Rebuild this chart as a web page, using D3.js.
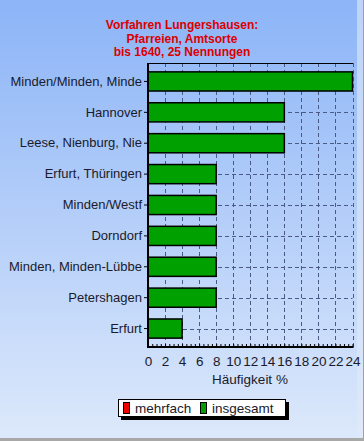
<!DOCTYPE html>
<html><head><meta charset="utf-8">
<script src="https://cdn.jsdelivr.net/npm/d3@7"></script>
<style>body{margin:0;padding:0;overflow:hidden}svg{display:block}</style>
</head><body>
<script>
const categories = ["Minden/Minden, Minde","Hannover","Leese, Nienburg, Nie","Erfurt, Thüringen","Minden/Westf","Dorndorf","Minden, Minden-Lübbe","Petershagen","Erfurt"];
const insgesamt = [24,16,16,8,8,8,8,8,4];
const mehrfach = [0,0,0,0,0,0,0,0,0];
const xTicks = [0,2,4,6,8,10,12,14,16,18,20,22,24];
const titleLines = ["Vorfahren Lungershausen:","Pfarreien, Amtsorte","bis 1640, 25 Nennungen"];
const xLabel = "Häufigkeit %";
const legendItems = [{name:"mehrfach",color:"#ee0000"},{name:"insgesamt",color:"#00a000"}];

const W=364,H=441;
const svg=d3.select("body").append("svg").attr("width",W).attr("height",H);
const defs=svg.append("defs");
const lg=defs.append("linearGradient").attr("id","bg").attr("x1",0).attr("y1",0).attr("x2",0).attr("y2",1);
lg.append("stop").attr("offset","0%").attr("stop-color","#8cb4f7");
lg.append("stop").attr("offset","100%").attr("stop-color","#dde9fb");
svg.append("rect").attr("width",W).attr("height",H).attr("fill","url(#bg)");
// window edges
svg.append("rect").attr("x",W-7).attr("y",0).attr("width",6).attr("height",H).attr("fill","#dfe9f9").attr("opacity",0.6);
svg.append("rect").attr("x",W-1).attr("y",0).attr("width",1).attr("height",H).attr("fill","#a0a0a0");
svg.append("rect").attr("x",0).attr("y",H-3).attr("width",W).attr("height",3).attr("fill","#a8a8a8");

const L=148,R=352.5,T=63,B=347;
const x=d3.scaleLinear().domain([0,24]).range([L,R]);
const y=d3.scaleBand().domain(categories).range([66,344]).paddingInner(0.38).paddingOuter(0.19);
const font="Liberation Sans, Arial, sans-serif";

// title
svg.append("g").selectAll("text").data(titleLines).join("text")
 .attr("x",182).attr("y",(d,i)=>29+i*13.5).attr("text-anchor","middle")
 .attr("font-family",font).attr("font-weight","bold").attr("font-size",12)
 .attr("fill","#dd0000").text(d=>d);

// grid
const g=svg.append("g");
g.selectAll(".vg").data(xTicks.slice(1)).join("line")
 .attr("x1",d=>Math.round(x(d))+0.5).attr("x2",d=>Math.round(x(d))+0.5).attr("y1",T).attr("y2",B)
 .attr("stroke","#4a5a85").attr("stroke-width",1).attr("stroke-dasharray","4,3");
g.selectAll(".hg").data(categories).join("line")
 .attr("x1",L).attr("x2",R).attr("y1",d=>Math.round(y(d)+y.bandwidth()/2)+0.5).attr("y2",d=>Math.round(y(d)+y.bandwidth()/2)+0.5)
 .attr("stroke","#4a5a85").attr("stroke-width",1).attr("stroke-dasharray","4,3");
// top border
svg.append("line").attr("x1",L).attr("x2",R+0.5).attr("y1",T+0.5).attr("y2",T+0.5).attr("stroke","#000");

// bars
svg.append("g").selectAll("rect").data(insgesamt).join("rect")
 .attr("x",x(0)).attr("y",(d,i)=>y(categories[i])).attr("width",d=>x(d)-x(0)).attr("height",y.bandwidth())
 .attr("fill","#00a000").attr("stroke","#000").attr("stroke-width",1.5);

// x axis
const xa=svg.append("g").attr("transform",`translate(0,${B})`)
 .call(d3.axisBottom(x).tickValues(d3.range(0,24.01,0.5)).tickSize(-3).tickFormat(""));
xa.select(".domain").remove();
xa.selectAll("line").attr("stroke","#000");
const xl=svg.append("g").attr("transform",`translate(0,${B})`)
 .call(d3.axisBottom(x).tickValues(xTicks).tickSize(0).tickPadding(9).tickFormat(d3.format("d")));
xl.select(".domain").remove();
xl.selectAll("text").attr("font-family",font).attr("font-size",13.5).attr("fill","#1a1a2a");
svg.append("line").attr("x1",L-1).attr("x2",R+1).attr("y1",B).attr("y2",B).attr("stroke","#000").attr("stroke-width",2);

// y axis
const ya=svg.append("g").attr("transform",`translate(${L},0)`)
 .call(d3.axisLeft(y).tickSize(4).tickPadding(2));
ya.select(".domain").remove();
ya.selectAll("line").attr("stroke","#000");
ya.selectAll("text").attr("font-family",font).attr("font-size",13).attr("fill","#1a1a2a");
svg.append("line").attr("x1",L).attr("x2",L).attr("y1",T).attr("y2",B+1).attr("stroke","#000").attr("stroke-width",2);

svg.append("text").attr("x",250).attr("y",384).attr("text-anchor","middle")
 .attr("font-family",font).attr("font-size",13.5).attr("fill","#1a1a2a").text(xLabel);

// legend
const lgG=svg.append("g");
lgG.append("rect").attr("x",121).attr("y",402).attr("width",168).attr("height",18).attr("fill","#000");
lgG.append("rect").attr("x",118.5).attr("y",399.5).attr("width",167).attr("height",17).attr("fill","#fff").attr("stroke","#000");
const lx=[123,200];
legendItems.forEach((it,i)=>{
 lgG.append("rect").attr("x",lx[i]+0.5).attr("y",402.5).attr("width",6).attr("height",11).attr("fill",it.color).attr("stroke","#000").attr("stroke-width",1);
 lgG.append("text").attr("x",lx[i]+12).attr("y",413).attr("font-family",font).attr("font-size",13.5).attr("fill","#1a1a2a").text(it.name);
});
</script>
</body></html>
